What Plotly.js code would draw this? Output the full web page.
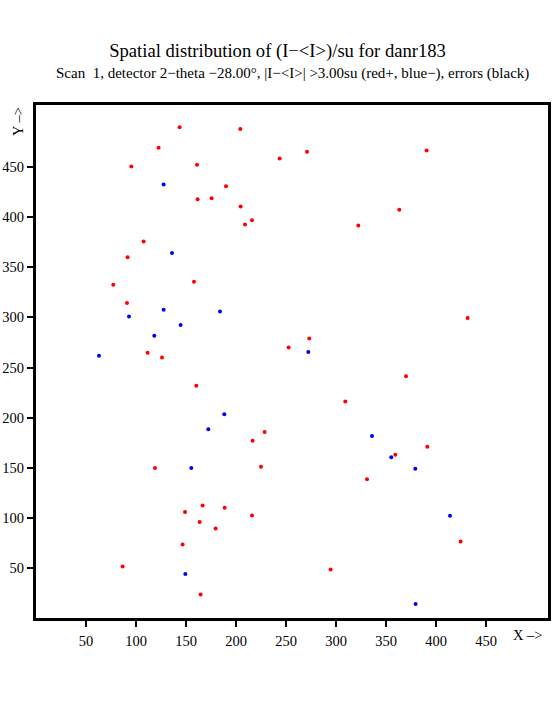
<!DOCTYPE html>
<html>
<head>
<meta charset="utf-8">
<script src="https://cdn.plot.ly/plotly-3.0.1.min.js"></script>
<style>html,body{margin:0;padding:0;background:#fff;}#chart{width:555px;height:725px;}</style>
</head>
<body>
<div id="chart"></div>
<script>
// Positive deviations (red +)
const redX = [143.6, 204.3, 122.6, 243.6, 95.3, 161, 190, 161.6, 175.6, 204.6, 216, 209, 107.6, 91.6,
  271, 390.6, 363.3, 322.3,
  77.3, 158, 91, 252.6, 111.6, 126, 160.3, 228.6, 216.6,
  431.6, 273.3, 370, 309.3, 391.3,
  119, 225, 166.6, 188.6, 149, 216, 163.6, 179.6, 146.6, 86.6, 164.6,
  359.3, 331, 424.6, 294.6];
const redY = [489.7, 488, 469.4, 458.7, 450.7, 452.4, 431, 418, 419, 410.7, 397, 392.7, 375.7, 360,
  465.4, 466.7, 407.4, 391.7,
  332.7, 335.7, 314.4, 270, 264.7, 260, 231.7, 185.7, 177,
  299.4, 279, 241.4, 216, 171,
  149.7, 151, 112.4, 110, 105.7, 102.4, 95.7, 89.4, 73.4, 51.4, 23.4,
  163, 138.4, 76.4, 48.4];
// Negative deviations (blue -)
const blueX = [127.6, 136, 93, 127.6, 184, 144.6, 118.3, 63, 188.3, 172.3, 272.3, 336, 155.3, 149.3, 355.3, 379.3, 414, 379.6];
const blueY = [432.7, 364.4, 301, 307.7, 306, 292.4, 281.7, 261.7, 203.4, 188.4, 265.4, 181.7, 149.7, 44, 160.4, 149, 102, 14];
// Errors (black) - none in this scan
const errX = [];
const errY = [];

const tickVals = [50, 100, 150, 200, 250, 300, 350, 400, 450];
const tickText = ['50', '100', '150', '200', '250', '300', '350', '400', '450'];

const titleText = 'Spatial distribution of (I\u2212&lt;I&gt;)/su for danr183';
const subtitleText = 'Scan  1, detector 2\u2212theta \u221228.00\u00b0, |I\u2212&lt;I&gt;| &gt;3.00su (red+, blue\u2212), errors (black)';

const serif = '"Liberation Serif", "DejaVu Serif", serif';

const traces = [
  {x: redX, y: redY, type: 'scatter', mode: 'markers', marker: {color: '#ff0000', size: 4}, name: 'red+', hoverinfo: 'x+y'},
  {x: blueX, y: blueY, type: 'scatter', mode: 'markers', marker: {color: '#0000ff', size: 4}, name: 'blue-', hoverinfo: 'x+y'},
  {x: errX, y: errY, type: 'scatter', mode: 'markers', marker: {color: '#000000', size: 4}, name: 'errors', hoverinfo: 'x+y'}
];

const axisCommon = {
  range: [0, 512],
  tickmode: 'array',
  tickvals: tickVals,
  ticktext: tickText,
  ticks: 'outside',
  ticklen: 6,
  tickwidth: 2,
  tickcolor: '#000',
  showline: true,
  linecolor: '#000',
  linewidth: 3,
  mirror: true,
  showgrid: false,
  zeroline: false,
  tickfont: {family: serif, size: 14.5, color: '#000'},
  fixedrange: true
};

const layout = {
  width: 555,
  height: 725,
  margin: {l: 36, r: 7, t: 105, b: 107},
  paper_bgcolor: '#fff',
  plot_bgcolor: '#fff',
  showlegend: false,
  title: {
    text: titleText,
    font: {family: serif, size: 18.6, color: '#000'},
    x: 0.5, xanchor: 'center',
    y: 1 - 50 / 725, yanchor: 'middle', yref: 'container'
  },
  xaxis: Object.assign({}, axisCommon, {ticklabelstandoff: 2}),
  yaxis: Object.assign({}, axisCommon),
  annotations: [
    {text: subtitleText, xref: 'paper', yref: 'paper', x: 0.5, y: 1 + (105 - 74) / 512, xanchor: 'center', yanchor: 'middle', showarrow: false, font: {family: serif, size: 15, color: '#000'}},
    {text: 'X \u2013&gt;', xref: 'paper', yref: 'paper', x: 1 - 20 / 512, y: -(635 - 618) / 512, xanchor: 'center', yanchor: 'middle', showarrow: false, font: {family: serif, size: 14.5, color: '#000'}},
    {text: 'Y \u2013&gt;', xref: 'paper', yref: 'paper', x: -(36 - 18) / 512, y: 1 - (122 - 105) / 512, xanchor: 'center', yanchor: 'middle', textangle: -90, showarrow: false, font: {family: serif, size: 14.5, color: '#000'}}
  ]
};

Plotly.newPlot('chart', traces, layout, {displayModeBar: false, staticPlot: true});
</script>
</body>
</html>
